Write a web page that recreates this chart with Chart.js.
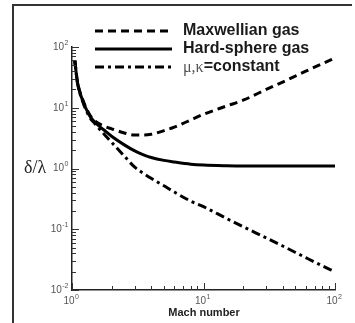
<!DOCTYPE html>
<html>
<head>
<meta charset="utf-8">
<script src="https://cdn.jsdelivr.net/npm/chart.js@4.4.1/dist/chart.umd.min.js"></script>
<style>
html, body { margin: 0; padding: 0; background: #fff; }
#wrap { width: 355px; height: 323px; }
</style>
</head>
<body>
<div id="wrap"><canvas id="machChart" width="355" height="323"></canvas></div>
<script>
// Shock thickness over mean free path vs. Mach number
const machNumbers   = [1.05, 1.1, 1.2, 1.35, 1.5, 1.75, 2, 2.5, 3, 3.5, 4, 5, 6, 8, 10, 15, 20, 30, 40, 60, 80, 100];
const maxwellianGas = [60, 27, 14, 8.0, 6.0, 5.0, 4.5, 3.85, 3.55, 3.55, 3.65, 4.2, 4.8, 6.3, 7.8, 10.7, 13.3, 20, 26.5, 40, 53, 66];
const hardSphereGas = [60, 26, 13.5, 7.6, 5.7, 4.3, 3.4, 2.45, 1.95, 1.68, 1.52, 1.36, 1.28, 1.18, 1.14, 1.11, 1.1, 1.1, 1.1, 1.1, 1.1, 1.1];
const constantMuKappa = [60, 26, 13, 7.2, 5.4, 3.7, 2.7, 1.6, 1.05, 0.83, 0.69, 0.52, 0.41, 0.29, 0.235, 0.15, 0.11, 0.072, 0.053, 0.034, 0.025, 0.02];

const seriesLabels = ['Maxwellian gas', 'Hard-sphere gas', 'μ,κ=constant'];
const xTickExponents = [0, 1, 2];
const yTickExponents = [-2, -1, 0, 1, 2];

const points = ys => machNumbers.map((m, i) => ({ x: m, y: ys[i] }));

const SANS = '"Liberation Sans", Arial, sans-serif';

// "10" with a raised exponent
function drawPower(ctx, x, y, exp, align) {
  const base = '10', sup = String(exp);
  ctx.font = '10px ' + SANS;
  const wb = ctx.measureText(base).width;
  ctx.font = '7px ' + SANS;
  const ws = ctx.measureText(sup).width;
  const left = align === 'right' ? x - wb - ws - 1 : x - (wb + ws) / 2;
  ctx.fillStyle = '#555';
  ctx.textAlign = 'left';
  ctx.textBaseline = 'middle';
  ctx.font = '10px ' + SANS;
  ctx.fillText(base, left, y);
  ctx.font = '7px ' + SANS;
  ctx.fillText(sup, left + wb + 0.5, y - 4);
}

// decade ticks 1..9 x 10^e
function logTickValues(lo, hi) {
  const out = [];
  for (let e = lo; e < hi; e++) {
    for (let k = 1; k < 10; k++) out.push({ v: k * Math.pow(10, e), major: k === 1 });
  }
  out.push({ v: Math.pow(10, hi), major: true });
  return out;
}

const decorations = {
  id: 'decorations',
  beforeDraw(chart) {
    const ctx = chart.ctx;
    ctx.save();
    ctx.fillStyle = '#fff';
    ctx.fillRect(0, 0, chart.width, chart.height);
    ctx.strokeStyle = '#333';
    ctx.lineWidth = 2;
    ctx.beginPath();
    ctx.moveTo(13, chart.height);
    ctx.lineTo(13, 5);
    ctx.lineTo(352, 5);
    ctx.stroke();
    ctx.restore();
  },
  afterDraw(chart) {
    const ctx = chart.ctx;
    const xs = chart.scales.x, ys = chart.scales.y;
    const area = chart.chartArea;
    ctx.save();

    // inward tick marks
    ctx.strokeStyle = '#333';
    ctx.lineWidth = 1;
    logTickValues(yTickExponents[0], yTickExponents[yTickExponents.length - 1]).forEach(t => {
      const py = Math.round(ys.getPixelForValue(t.v)) + 0.5;
      ctx.beginPath();
      ctx.moveTo(area.left, py);
      ctx.lineTo(area.left + (t.major ? 7 : 4), py);
      ctx.stroke();
    });
    logTickValues(xTickExponents[0], xTickExponents[xTickExponents.length - 1]).forEach(t => {
      const px = Math.round(xs.getPixelForValue(t.v)) + 0.5;
      ctx.beginPath();
      ctx.moveTo(px, area.bottom);
      ctx.lineTo(px, area.bottom - (t.major ? 7 : 4));
      ctx.stroke();
    });

    // tick labels
    yTickExponents.forEach(e => drawPower(ctx, area.left - 3, ys.getPixelForValue(Math.pow(10, e)), e, 'right'));
    xTickExponents.forEach(e => drawPower(ctx, xs.getPixelForValue(Math.pow(10, e)) - 1, area.bottom + 11, e, 'center'));

    // axis titles
    ctx.fillStyle = '#222';
    ctx.textBaseline = 'middle';
    ctx.textAlign = 'center';
    ctx.font = 'bold 11px ' + SANS;
    ctx.fillText('Mach number', 204, 313);
    ctx.font = '18px "Liberation Serif", "Times New Roman", serif';
    ctx.fillText('δ/λ', 35, ys.getPixelForValue(1));

    // legend
    const rows = [31, 49, 67];
    chart.data.datasets.forEach((ds, i) => {
      const y = rows[i];
      ctx.strokeStyle = ds.borderColor;
      ctx.lineWidth = ds.borderWidth;
      ctx.setLineDash(ds.borderDash || []);
      ctx.beginPath();
      ctx.moveTo(95, y);
      ctx.lineTo(172, y);
      ctx.stroke();
      ctx.setLineDash([]);

      ctx.textAlign = 'left';
      ctx.fillStyle = '#1a1a1a';
      const parts = ds.label.split('=');
      let x = 183;
      if (parts.length > 1) {
        ctx.font = '16px "Liberation Serif", serif';
        ctx.fillStyle = '#555';
        ctx.fillText(parts[0], x, y + 1);
        x += ctx.measureText(parts[0]).width;
        ctx.fillStyle = '#1a1a1a';
        ctx.font = 'bold 16px ' + SANS;
        ctx.fillText('=' + parts[1], x, y);
      } else {
        ctx.font = 'bold 16px ' + SANS;
        ctx.fillText(ds.label, x, y);
      }
    });
    ctx.restore();
  }
};

const lineStyle = {
  borderColor: '#000',
  borderWidth: 3,
  pointRadius: 0,
  fill: false,
  cubicInterpolationMode: 'monotone',
  borderCapStyle: 'butt'
};

new Chart(document.getElementById('machChart'), {
  type: 'line',
  data: {
    datasets: [
      Object.assign({ label: seriesLabels[0], data: points(maxwellianGas), borderDash: [8, 5] }, lineStyle),
      Object.assign({ label: seriesLabels[1], data: points(hardSphereGas), borderDash: [] }, lineStyle),
      Object.assign({ label: seriesLabels[2], data: points(constantMuKappa), borderDash: [9, 4, 3, 4] }, lineStyle)
    ]
  },
  options: {
    responsive: false,
    animation: false,
    layout: { padding: { left: 72, right: 20, top: 47, bottom: 33 } },
    plugins: {
      legend: { display: false },
      tooltip: { enabled: false }
    },
    scales: {
      x: {
        type: 'logarithmic', min: 1, max: 100,
        grid: { display: false, drawTicks: false },
        ticks: { display: false },
        border: { display: true, color: '#222', width: 1.5 }
      },
      y: {
        type: 'logarithmic', min: 0.01, max: 100,
        grid: { display: false, drawTicks: false },
        ticks: { display: false },
        border: { display: true, color: '#222', width: 1.5 }
      }
    }
  },
  plugins: [decorations]
});
</script>
</body>
</html>
